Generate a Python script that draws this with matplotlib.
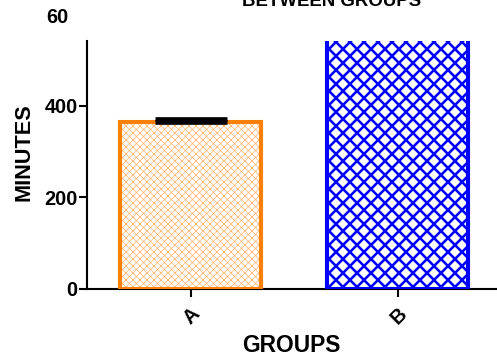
import numpy as np
import matplotlib
matplotlib.use('Agg')
import matplotlib.pyplot as plt

# 数据
groups = ['A', 'B']
minutes = [364, 560]
err_up = [7, 0]

orange = '#ff8000'
blue = '#0000ff'

plt.rcParams['font.family'] = ['Liberation Sans', 'DejaVu Sans']
plt.rcParams['font.weight'] = 'bold'

dpi = 84
fig = plt.figure(figsize=(497 / dpi, 358 / dpi), dpi=dpi)
ax = fig.add_axes([87 / 497, 1 - 289 / 358, 1 - 87 / 497, (289 - 41) / 358])

x = np.arange(len(groups))
w = 0.68

# A: 细斜纹
with plt.rc_context({'hatch.linewidth': 0.6}):
    ax.bar(x[0], minutes[0], w, color='white', edgecolor='#ffb066', hatch='xxxx', linewidth=0, zorder=2)
ax.bar(x[0], minutes[0], w, color='none', edgecolor=orange, linewidth=3.5, zorder=3)
# B: 粗网格
with plt.rc_context({'hatch.linewidth': 2.2}):
    ax.bar(x[1], minutes[1], w, color='white', edgecolor=blue, hatch='xx', linewidth=0, zorder=2)
ax.bar(x[1], minutes[1], w, color='none', edgecolor=blue, linewidth=3.5, zorder=3)

ax.errorbar(x[0], minutes[0], yerr=[[0], [err_up[0]]], fmt='none', ecolor='black',
            elinewidth=2, capsize=31, capthick=4, zorder=4)

ax.set_xlim(-0.5, 1.48)
ax.set_ylim(0, 541)
ax.set_yticks([0, 200, 400])
ax.set_xticks(x)
ax.set_xticklabels(groups, rotation=45, ha='right', va='top', rotation_mode='anchor')

for s in ['top', 'right']:
    ax.spines[s].set_visible(False)
for s in ['left', 'bottom']:
    ax.spines[s].set_linewidth(1.8)
ax.tick_params(axis='both', width=1.8, length=7, labelsize=17, pad=1)
ax.tick_params(axis='x', pad=6)

fig.text(24 / 497, 1 - 152 / 358, 'MINUTES', rotation=90, ha='center', va='center',
         fontsize=18.5, fontweight='bold')
fig.text(291 / 497, 1 - 345 / 358, 'GROUPS', ha='center', va='center',
         fontsize=19.5, fontweight='bold')
fig.text(332 / 497, 1 - 5.5 / 358, 'BETWEEN GROUPS', ha='center', va='baseline',
         fontsize=16, fontweight='bold')
fig.text(46 / 497, 1 - 23 / 358, '60', ha='left', va='baseline', fontsize=17, fontweight='bold')

fig.savefig('out.png', dpi=dpi)
